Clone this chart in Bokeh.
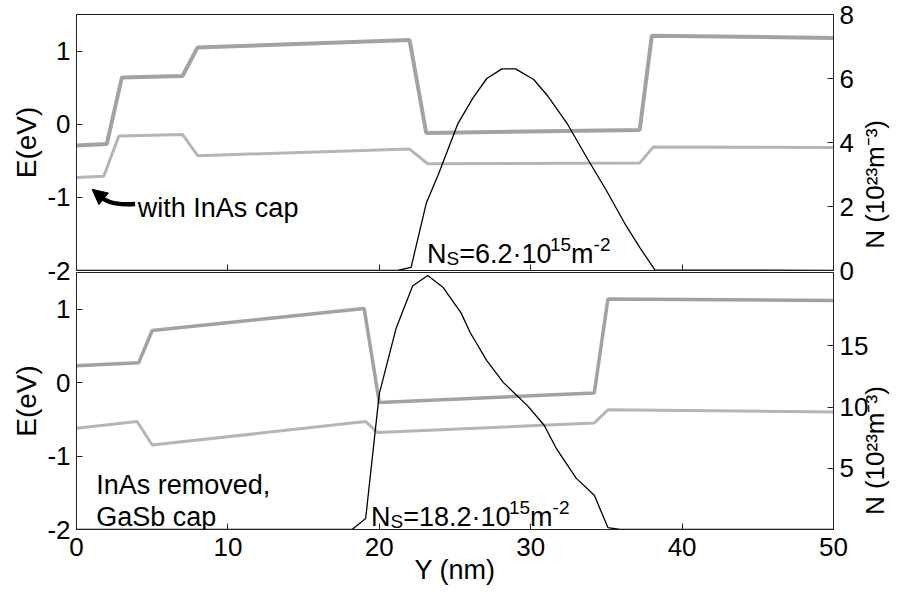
import math

from bokeh.plotting import figure
from bokeh.layouts import column
from bokeh.models import Range1d, LinearAxis, FixedTicker, Label, Arrow, NormalHead
from bokeh.embed import file_html
from bokeh.resources import INLINE

# ---------------- data ----------------
# Upper panel: with InAs cap
top_cb_y = [0, 2.0, 3.0, 7.0, 8.0, 22.0, 23.1, 37.2, 38.0, 50]
top_cb_e = [-0.29, -0.27, 0.64, 0.66, 1.05, 1.15, -0.12, -0.08, 1.21, 1.18]
top_vb_y = [0, 1.8, 2.8, 7.0, 8.0, 22.0, 23.2, 37.2, 38.1, 50]
top_vb_e = [-0.73, -0.71, -0.16, -0.14, -0.43, -0.34, -0.54, -0.53, -0.31, -0.32]
top_n_y = [0, 21.2, 22.1, 23.1, 23.9, 25.2, 26.2, 27.1, 28.1, 29.0, 30.2, 31.1,
           32.4, 33.7, 35.0, 36.3, 37.2, 38.2, 50]
top_n = [0, 0, 0.10, 2.10, 3.00, 4.60, 5.40, 6.00, 6.30, 6.30, 5.97, 5.47,
         4.60, 3.53, 2.50, 1.40, 0.72, 0.02, 0]

# Lower panel: InAs removed, GaSb cap
bot_cb_y = [0, 4.1, 5.0, 19.0, 20.0, 34.2, 35.1, 50]
bot_cb_e = [0.23, 0.27, 0.71, 1.01, -0.27, -0.14, 1.14, 1.12]
bot_vb_y = [0, 4.0, 5.0, 19.1, 19.9, 34.2, 35.1, 50]
bot_vb_e = [-0.62, -0.53, -0.85, -0.53, -0.68, -0.55, -0.37, -0.40]
bot_n_y = [0, 18.2, 19.1, 20.0, 21.1, 22.2, 23.2, 24.2, 25.4, 26.0, 27.1, 28.2,
           29.8, 30.9, 31.7, 33.0, 34.2, 35.1, 35.9, 50]
bot_n = [0, 0, 0.9, 11.1, 16.4, 19.9, 20.75, 19.8, 17.7, 16.1, 13.8, 12.0,
         10.1, 8.5, 6.6, 4.2, 2.8, 0.16, 0, 0]

e_ticks = [-2, -1, 0, 1]
top_n_ticks = [0, 2, 4, 6, 8]
bot_n_ticks = [5, 10, 15]
y_ticks = [0, 10, 20, 30, 40, 50]

FONT = "Liberation Sans"
CB_COLOR, VB_COLOR = "#a2a2a2", "#b5b5b5"
NBSP = "\u00a0"
N_TITLE = "N (10\u00b2\u00b3m\u207b\u00b3)"

# Helvetica/Arial advance widths (1/1000 em) for composed labels
WIDTHS = {'N': 722, 'S': 667, '=': 584, '.': 278, '\u00b7': 278, 'm': 833,
          '-': 333, ' ': 278, '(': 333, ')': 333}
for d in "0123456789":
    WIDTHS[d] = 556


def rich_label(p, x, y, parts, size, small=19):
    """Place a run of text pieces with sub/superscripts starting at (x, y)."""
    adv = 0.0
    for txt, kind in parts:
        fs = size if kind == "n" else small
        shift = {"n": 0, "sub": -4, "sup": 10}[kind]
        p.add_layout(Label(x=x, y=y, x_offset=adv, y_offset=shift, text=txt,
                           text_font=FONT, text_font_size=f"{fs}px",
                           text_color="black", text_baseline="alphabetic",
                           text_align="left"))
        adv += sum(WIDTHS[c] for c in txt) / 1000 * fs


def style(p, n_range, n_ticks, n_standoff, n_lead, n_title_standoff):
    p.extra_y_ranges = {"n": n_range}
    right = LinearAxis(y_range_name="n", ticker=FixedTicker(ticks=n_ticks))
    p.add_layout(right, "right")
    p.grid.visible = False
    p.outline_line_color = "#222222"
    p.outline_line_width = 1
    for ax in p.axis:
        ax.major_tick_in = 6
        ax.major_tick_out = 0
        ax.minor_tick_in = 0
        ax.minor_tick_out = 0
        ax.axis_line_color = "#222222"
        ax.major_tick_line_color = "#222222"
        ax.major_label_text_font = FONT
        ax.major_label_text_font_size = "26px"
        ax.major_label_text_color = "black"
        ax.major_label_standoff = 6
        ax.axis_label_text_font = FONT
        ax.axis_label_text_font_style = "normal"
        ax.axis_label_text_color = "black"
    left = p.yaxis[0]
    left.ticker = FixedTicker(ticks=e_ticks)
    left.major_label_overrides = {-2: "-2", -1: "-1"}
    left.axis_label = "E(eV)"
    left.axis_label_text_font_size = "28px"
    left.axis_label_standoff = 2
    right.major_label_standoff = n_standoff
    right.axis_label_text_font_size = "26px"
    right.axis_label_standoff = n_title_standoff
    # read bottom-to-top, like the left-hand title, starting near the bottom
    right.axis_label_orientation = math.pi / 2
    if "axis_label_align" in right.properties():
        right.axis_label_align = "start"
        right.axis_label = NBSP * n_lead + N_TITLE
    else:
        right.axis_label = N_TITLE
    p.xaxis.ticker = FixedTicker(ticks=y_ticks)


x_range = Range1d(0, 50)

# upper panel: its bottom border leaves room for the "-2" / "0" labels that
# sit on the panel boundary; the lower panel is pulled up over that border
top = figure(width=908, height=284, x_range=x_range, y_range=Range1d(-2, 1.5),
             output_backend="svg", toolbar_location=None,
             min_border_left=76, min_border_right=68, min_border_top=14,
             min_border_bottom=14)
style(top, Range1d(0, 8), top_n_ticks, 6, 3, 18)
top.xaxis.major_label_text_font_size = "0px"
top.xaxis.major_label_text_color = None
top.xaxis.major_label_standoff = 0
top.line(top_cb_y, top_cb_e, line_color=CB_COLOR, line_width=4)
top.line(top_vb_y, top_vb_e, line_color=VB_COLOR, line_width=3)
top.line(top_n_y, top_n, y_range_name="n", line_color="black", line_width=1.3)

bot = figure(width=908, height=322, x_range=x_range, y_range=Range1d(-2, 1.5),
             output_backend="svg", toolbar_location=None,
             min_border_left=76, min_border_right=68, min_border_top=0,
             min_border_bottom=65,
             border_fill_color=None, background_fill_color=None,
             styles={"margin-top": "-12px"})
style(bot, Range1d(0, 21), bot_n_ticks, 6, 2, 4)
bot.xaxis.axis_label = "Y (nm)"
bot.xaxis.axis_label_text_font_size = "27px"
bot.xaxis.axis_label_standoff = -4
bot.xaxis.major_label_standoff = 8
bot.line(bot_cb_y, bot_cb_e, line_color=CB_COLOR, line_width=3.5)
bot.line(bot_vb_y, bot_vb_e, line_color=VB_COLOR, line_width=3)
bot.line(bot_n_y, bot_n, y_range_name="n", line_color="black", line_width=1.3)

# sheet densities
rich_label(top, 23.15, -1.78,
           [("N", "n"), ("S", "sub"), ("=6.2\u00b710", "n"), ("15", "sup"),
            ("m", "n"), ("-2", "sup")], 27)
rich_label(bot, 19.45, -1.83,
           [("N", "n"), ("S", "sub"), ("=18.2\u00b710", "n"), ("15", "sup"),
            ("m", "n"), ("-2", "sup")], 27)

# curved arrow pointing at the InAs cap
top.bezier(x0=[3.87], y0=[-1.09], x1=[1.50], y1=[-0.97],
           cx0=[2.7], cy0=[-1.11], cx1=[1.9], cy1=[-1.07],
           line_color="black", line_width=4.5)
top.add_layout(Arrow(end=NormalHead(size=15, fill_color="black",
                                    line_color="black"),
                     x_start=1.50, y_start=-0.97, x_end=1.03, y_end=-0.89,
                     line_color="black", line_width=4.5))
top.add_layout(Label(x=4.05, y=-1.14, text="with InAs cap", text_font=FONT,
                     text_font_size="27px", text_color="black",
                     text_baseline="alphabetic"))
bot.add_layout(Label(x=1.3, y=-1.39, text="InAs removed,", text_font=FONT,
                     text_font_size="27px", text_color="black",
                     text_baseline="alphabetic"))
bot.add_layout(Label(x=1.3, y=-1.83, text="GaSb cap", text_font=FONT,
                     text_font_size="27px", text_color="black",
                     text_baseline="alphabetic"))

layout = column(top, bot)
open("out.html", "w").write(file_html(layout, INLINE))
